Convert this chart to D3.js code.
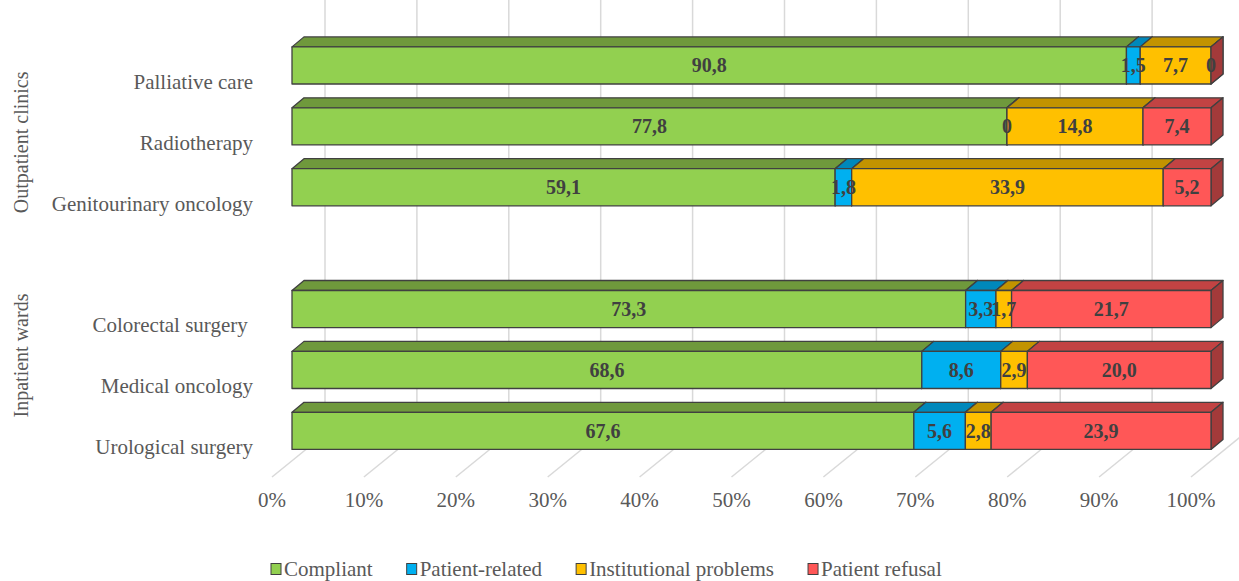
<!DOCTYPE html>
<html>
<head>
<meta charset="utf-8">
<script src="https://cdn.jsdelivr.net/npm/d3@7"></script>
<style>
  body { margin: 0; background: #fff; }
  text { font-family: "Liberation Serif", "Times New Roman", serif; }
</style>
</head>
<body>
<script>
// chart data
let groups = ["Outpatient clinics", "Inpatient wards"]
let categories = ["Palliative care", "Radiotherapy", "Genitourinary oncology", "Colorectal surgery ", "Medical oncology", "Urological surgery"]
let categoryGroup = [0, 0, 0, 1, 1, 1]
let seriesNames = ["Compliant", "Patient-related", "Institutional problems", "Patient refusal"]
let compliant = [90.8, 77.8, 59.1, 73.3, 68.6, 67.6]
let patientRelated = [1.5, 0, 1.8, 3.3, 8.6, 5.6]
let institutional = [7.7, 14.8, 33.9, 1.7, 2.9, 2.8]
let refusal = [0, 7.4, 5.2, 21.7, 20.0, 23.9]
let tickValues = [0, 10, 20, 30, 40, 50, 60, 70, 80, 90, 100]

let frontColors = ["#92d050", "#00b0f0", "#ffc000", "#ff5757"]
let topColors = ["#6f993c", "#0088bb", "#c29300", "#c24343"]
let sideColors = ["#5c8030", "#00739e", "#a37c00", "#a33a3a"]

let W = 1239, H = 581
let svg = d3.select("body").append("svg").attr("width", W).attr("height", H)

// rows: a blank row separates the two groups and belongs to the second one
let rows = []
let rowGroup = []
categories.forEach((c, i) => {
    if (i > 0 && categoryGroup[i] !== categoryGroup[i - 1]) {
        rows.push("__gap" + i)
        rowGroup.push(categoryGroup[i])
    }
    rows.push(c)
    rowGroup.push(categoryGroup[i])
})

let table = categories.map((c, i) => ({
    cat: c,
    Compliant: compliant[i],
    "Patient-related": patientRelated[i],
    "Institutional problems": institutional[i],
    "Patient refusal": refusal[i]
}))
let stacked = d3.stack().keys(seriesNames).offset(d3.stackOffsetExpand)(table)

let x = d3.scaleLinear().domain([0, 1]).range([292, 1211])
let xFloor = d3.scaleLinear().domain([0, 100]).range([272, 1191])
let xBack = d3.scaleLinear().domain([0, 100]).range([325, 1244])
let y = d3.scaleBand().domain(rows).range([35, 461.3]).paddingInner(0.39).paddingOuter(0.195)
let dx = 12, dy = -10
let floorY = 477, backFloorY = 434

// walls and floor
let grid = svg.append("g")
grid.selectAll(".wall").data(tickValues).enter().append("line")
    .attr("x1", d => xBack(d)).attr("x2", d => xBack(d))
    .attr("y1", 0).attr("y2", backFloorY)
    .attr("stroke", "#d9d9d9").attr("stroke-width", 1.5)
grid.selectAll(".floor").data(tickValues).enter().append("line")
    .attr("x1", d => xFloor(d)).attr("y1", floorY)
    .attr("x2", d => xBack(d)).attr("y2", backFloorY)
    .attr("stroke", "#d9d9d9").attr("stroke-width", 1.5)

svg.append("g").selectAll("text").data(tickValues).enter().append("text")
    .attr("x", d => xFloor(d)).attr("y", 507)
    .attr("text-anchor", "middle")
    .attr("font-size", 21).attr("fill", "#595959")
    .text(d => d + "%")

// bars
let bars = svg.append("g")
let segs = []
categories.forEach((c, i) => {
    stacked.forEach((layer, k) => {
        segs.push({ cat: c, k: k, v0: layer[i][0], v1: layer[i][1], value: layer[i].data[layer.key] })
    })
})

let poly = pts => pts.map(p => p.join(",")).join(" ")

segs.forEach(s => {
    let x0 = x(s.v0), x1 = x(s.v1)
    let yt = y(s.cat), yb = yt + y.bandwidth()
    let g = bars.append("g")
        .attr("stroke", "#404040").attr("stroke-width", 1.3).attr("stroke-linejoin", "round")
    g.append("polygon")
        .attr("points", poly([[x0, yt], [x0 + dx, yt + dy], [x1 + dx, yt + dy], [x1, yt]]))
        .attr("fill", topColors[s.k])
    g.append("polygon")
        .attr("points", poly([[x1, yt], [x1 + dx, yt + dy], [x1 + dx, yb + dy], [x1, yb]]))
        .attr("fill", sideColors[s.k])
    g.append("rect")
        .attr("x", x0).attr("y", yt)
        .attr("width", x1 - x0).attr("height", y.bandwidth())
        .attr("fill", frontColors[s.k])
})

let fmt = v => v === 0 ? "0" : v.toFixed(1).replace(".", ",")
svg.append("g").selectAll("text").data(segs).enter().append("text")
    .attr("x", d => (x(d.v0) + x(d.v1)) / 2)
    .attr("y", d => y(d.cat) + y.bandwidth() / 2)
    .attr("dy", "0.35em")
    .attr("text-anchor", "middle")
    .attr("font-size", 20).attr("font-weight", "bold").attr("fill", "#404040")
    .text(d => fmt(d.value))

// category labels
svg.append("g").selectAll("text").data(categories).enter().append("text")
    .attr("x", 253)
    .attr("y", d => y(d) + y.bandwidth() / 2 + 16)
    .attr("dy", "0.35em")
    .attr("text-anchor", "end")
    .style("white-space", "pre")
    .attr("font-size", 21).attr("fill", "#595959")
    .text(d => d)

// group labels
groups.forEach((gname, gi) => {
    let r = rows.filter((d, i) => rowGroup[i] === gi)
    let c = (y(r[0]) + y(r[r.length - 1])) / 2 + y.bandwidth() / 2 + 16
    svg.append("text")
        .attr("transform", "translate(21," + c + ") rotate(-90)")
        .attr("dy", "0.35em")
        .attr("text-anchor", "middle")
        .attr("font-size", 20).attr("fill", "#595959")
        .text(gname)
})

// legend
let legend = svg.append("g")
let lx = 271
let ly = 569
seriesNames.forEach((name, k) => {
    legend.append("rect")
        .attr("x", lx).attr("y", ly - 5.5)
        .attr("width", 10).attr("height", 11)
        .attr("fill", frontColors[k]).attr("stroke", "#404040").attr("stroke-width", 1)
    let t = legend.append("text")
        .attr("x", lx + 13).attr("y", ly).attr("dy", "0.35em")
        .attr("font-size", 21).attr("fill", "#595959")
        .text(name)
    lx += 13 + t.node().getComputedTextLength() + 34
})
</script>
</body>
</html>
